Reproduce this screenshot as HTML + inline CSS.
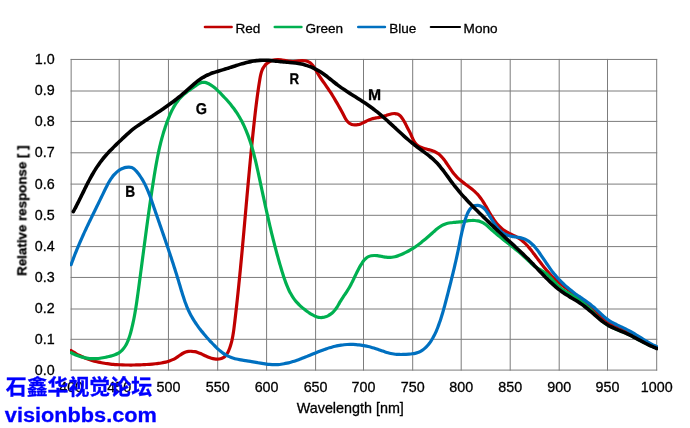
<!DOCTYPE html>
<html><head><meta charset="utf-8"><title>Relative response</title>
<style>
html,body{margin:0;padding:0;background:#fff;}
body{width:690px;height:428px;overflow:hidden;font-family:"Liberation Sans",sans-serif;}
svg{display:block;}
svg text{font-family:"Liberation Sans",sans-serif;fill:#000;stroke:#000;stroke-width:0.3px;}
svg{will-change:transform;}
svg g.t{filter:url(#ga);}
</style></head>
<body>
<svg width="690" height="428" viewBox="0 0 690 428">
<defs><filter id="ga" x="-10%" y="-10%" width="120%" height="120%"><feOffset dx="0" dy="0"/></filter></defs>
<rect width="690" height="428" fill="#ffffff"/>
<g stroke="#7c7c7c" stroke-width="1" fill="none">
<line x1="71.15" y1="58.95" x2="71.15" y2="370.60"/>
<line x1="119.20" y1="58.95" x2="119.20" y2="370.60"/>
<line x1="168.45" y1="58.95" x2="168.45" y2="370.60"/>
<line x1="217.70" y1="58.95" x2="217.70" y2="370.60"/>
<line x1="266.60" y1="58.95" x2="266.60" y2="370.60"/>
<line x1="315.60" y1="58.95" x2="315.60" y2="370.60"/>
<line x1="363.50" y1="58.95" x2="363.50" y2="370.60"/>
<line x1="412.70" y1="58.95" x2="412.70" y2="370.60"/>
<line x1="461.20" y1="58.95" x2="461.20" y2="370.60"/>
<line x1="510.20" y1="58.95" x2="510.20" y2="370.60"/>
<line x1="559.20" y1="58.95" x2="559.20" y2="370.60"/>
<line x1="607.50" y1="58.95" x2="607.50" y2="370.60"/>
<line x1="656.70" y1="58.95" x2="656.70" y2="370.60"/>
<line x1="70.65" y1="59.45" x2="657.20" y2="59.45"/>
<line x1="70.65" y1="91.00" x2="657.20" y2="91.00"/>
<line x1="70.65" y1="121.40" x2="657.20" y2="121.40"/>
<line x1="70.65" y1="152.80" x2="657.20" y2="152.80"/>
<line x1="70.65" y1="184.10" x2="657.20" y2="184.10"/>
<line x1="70.65" y1="215.30" x2="657.20" y2="215.30"/>
<line x1="70.65" y1="246.60" x2="657.20" y2="246.60"/>
<line x1="70.65" y1="277.45" x2="657.20" y2="277.45"/>
<line x1="70.65" y1="309.00" x2="657.20" y2="309.00"/>
<line x1="70.65" y1="339.30" x2="657.20" y2="339.30"/>
<line x1="70.65" y1="370.10" x2="657.20" y2="370.10"/>
</g>
<g class="t" font-size="14.3">
<text x="54.6" y="63.87" text-anchor="end">1.0</text>
<text x="54.6" y="95.42" text-anchor="end">0.9</text>
<text x="54.6" y="125.82" text-anchor="end">0.8</text>
<text x="54.6" y="157.22" text-anchor="end">0.7</text>
<text x="54.6" y="188.52" text-anchor="end">0.6</text>
<text x="54.6" y="219.72" text-anchor="end">0.5</text>
<text x="54.6" y="251.02" text-anchor="end">0.4</text>
<text x="54.6" y="281.87" text-anchor="end">0.3</text>
<text x="54.6" y="313.42" text-anchor="end">0.2</text>
<text x="54.6" y="343.72" text-anchor="end">0.1</text>
<text x="54.6" y="374.52" text-anchor="end">0.0</text>
</g>
<g class="t" font-size="14.3">
<text x="71.15" y="392.20" text-anchor="middle">400</text>
<text x="119.20" y="392.20" text-anchor="middle">450</text>
<text x="168.45" y="392.20" text-anchor="middle">500</text>
<text x="217.70" y="392.20" text-anchor="middle">550</text>
<text x="266.60" y="392.20" text-anchor="middle">600</text>
<text x="315.60" y="392.20" text-anchor="middle">650</text>
<text x="363.50" y="392.20" text-anchor="middle">700</text>
<text x="412.70" y="392.20" text-anchor="middle">750</text>
<text x="461.20" y="392.20" text-anchor="middle">800</text>
<text x="510.20" y="392.20" text-anchor="middle">850</text>
<text x="559.20" y="392.20" text-anchor="middle">900</text>
<text x="607.50" y="392.20" text-anchor="middle">950</text>
<text x="656.70" y="392.20" text-anchor="middle">1000</text>
</g>
<g class="t"><text x="350.3" y="413.2" font-size="14.35" text-anchor="middle">Wavelength [nm]</text>
<text transform="translate(26.4,210.6) rotate(-90)" font-size="13.33" font-weight="bold" text-anchor="middle">Relative response [ ]</text></g>
<clipPath id="pc"><rect x="70.6" y="58.9" width="586.7" height="311.8"/></clipPath>
<g fill="none" stroke-linecap="round" stroke-linejoin="round" clip-path="url(#pc)">
<path d="M71.11,350.53C71.54,350.81 72.80,351.68 73.65,352.22C74.51,352.76 75.37,353.28 76.24,353.78C77.11,354.28 78.00,354.76 78.89,355.22C79.77,355.68 80.67,356.11 81.58,356.53C82.48,356.95 83.40,357.35 84.31,357.73C85.23,358.10 86.16,358.46 87.09,358.81C88.03,359.15 88.97,359.47 89.91,359.78C90.85,360.09 91.81,360.38 92.76,360.66C93.72,360.93 94.68,361.19 95.64,361.43C96.61,361.68 97.58,361.90 98.56,362.12C99.53,362.33 100.51,362.53 101.49,362.71C102.47,362.90 103.46,363.07 104.45,363.23C105.44,363.39 106.43,363.53 107.42,363.67C108.42,363.80 109.41,363.92 110.41,364.04C111.41,364.15 112.41,364.25 113.41,364.34C114.41,364.43 115.41,364.51 116.42,364.58C117.42,364.65 118.43,364.71 119.43,364.76C120.43,364.81 121.44,364.86 122.44,364.89C123.44,364.93 124.45,364.96 125.45,364.98C126.45,365.00 127.45,365.02 128.45,365.02C129.46,365.03 130.45,365.03 131.45,365.03C132.45,365.02 133.45,365.01 134.45,365.00C135.45,364.98 136.44,364.96 137.44,364.93C138.44,364.90 139.43,364.86 140.43,364.82C141.43,364.78 142.42,364.73 143.42,364.68C144.42,364.62 145.41,364.56 146.41,364.50C147.41,364.43 148.41,364.36 149.40,364.29C150.40,364.21 151.40,364.13 152.40,364.04C153.40,363.95 154.40,363.86 155.40,363.76C156.40,363.65 157.40,363.54 158.39,363.41C159.38,363.28 160.37,363.13 161.35,362.96C162.34,362.79 163.32,362.61 164.28,362.39C165.25,362.18 166.21,361.94 167.16,361.67C168.11,361.39 169.05,361.10 169.98,360.76C170.90,360.42 171.82,360.05 172.72,359.63C173.61,359.22 174.50,358.76 175.36,358.26C176.23,357.76 177.07,357.20 177.92,356.63C178.76,356.07 179.58,355.45 180.43,354.89C181.27,354.34 182.11,353.76 183.00,353.28C183.88,352.81 184.77,352.36 185.72,352.05C186.66,351.73 187.65,351.51 188.65,351.39C189.65,351.26 190.70,351.24 191.71,351.28C192.73,351.33 193.77,351.47 194.77,351.67C195.76,351.86 196.73,352.14 197.68,352.46C198.63,352.77 199.53,353.15 200.44,353.54C201.35,353.93 202.23,354.37 203.13,354.79C204.02,355.21 204.91,355.66 205.81,356.06C206.72,356.47 207.63,356.87 208.57,357.23C209.50,357.58 210.45,357.91 211.42,358.18C212.38,358.44 213.37,358.67 214.38,358.82C215.38,358.96 216.43,359.05 217.45,359.04C218.48,359.02 219.54,358.94 220.51,358.72C221.48,358.49 222.44,358.17 223.27,357.71C224.10,357.25 224.83,356.63 225.49,355.93C226.14,355.24 226.70,354.40 227.21,353.55C227.73,352.70 228.17,351.75 228.59,350.81C229.01,349.88 229.37,348.91 229.73,347.96C230.08,347.00 230.40,346.04 230.69,345.07C230.99,344.11 231.26,343.14 231.51,342.17C231.76,341.20 231.99,340.22 232.20,339.24C232.41,338.26 232.60,337.28 232.78,336.30C232.96,335.32 233.12,334.33 233.27,333.34C233.43,332.36 233.57,331.37 233.70,330.38C233.84,329.39 233.96,328.40 234.09,327.41C234.21,326.42 234.33,325.42 234.45,324.43C234.57,323.44 234.69,322.45 234.81,321.45C234.92,320.46 235.04,319.47 235.16,318.48C235.27,317.48 235.39,316.49 235.50,315.50C235.62,314.51 235.73,313.51 235.84,312.52C235.96,311.53 236.07,310.53 236.18,309.54C236.29,308.55 236.40,307.55 236.52,306.56C236.63,305.56 236.74,304.57 236.84,303.58C236.95,302.58 237.06,301.59 237.17,300.59C237.28,299.60 237.38,298.61 237.49,297.61C237.60,296.62 237.70,295.62 237.81,294.63C237.91,293.63 238.02,292.64 238.12,291.64C238.23,290.65 238.33,289.65 238.43,288.66C238.53,287.66 238.64,286.67 238.74,285.67C238.84,284.68 238.94,283.68 239.04,282.69C239.14,281.69 239.24,280.70 239.34,279.70C239.44,278.71 239.54,277.71 239.64,276.71C239.74,275.72 239.84,274.72 239.93,273.73C240.03,272.73 240.13,271.73 240.23,270.74C240.32,269.74 240.42,268.75 240.52,267.75C240.61,266.75 240.71,265.76 240.80,264.76C240.90,263.77 240.99,262.77 241.09,261.77C241.18,260.78 241.28,259.78 241.37,258.78C241.46,257.79 241.56,256.79 241.65,255.79C241.74,254.80 241.84,253.80 241.93,252.80C242.02,251.81 242.11,250.81 242.21,249.81C242.30,248.82 242.39,247.82 242.48,246.82C242.57,245.83 242.66,244.83 242.75,243.83C242.85,242.84 242.94,241.84 243.03,240.84C243.12,239.84 243.21,238.85 243.30,237.85C243.39,236.85 243.48,235.86 243.57,234.86C243.66,233.86 243.75,232.86 243.84,231.87C243.93,230.87 244.02,229.87 244.10,228.88C244.19,227.88 244.28,226.88 244.37,225.88C244.46,224.89 244.55,223.89 244.64,222.89C244.73,221.90 244.82,220.90 244.90,219.90C244.99,218.90 245.08,217.91 245.17,216.91C245.26,215.91 245.35,214.92 245.44,213.92C245.52,212.92 245.61,211.92 245.70,210.93C245.79,209.93 245.88,208.93 245.97,207.94C246.06,206.94 246.14,205.94 246.23,204.94C246.32,203.95 246.41,202.95 246.50,201.95C246.59,200.96 246.68,199.96 246.77,198.96C246.86,197.96 246.94,196.97 247.03,195.97C247.12,194.97 247.21,193.98 247.30,192.98C247.39,191.98 247.48,190.99 247.57,189.99C247.66,188.99 247.75,188.00 247.84,187.00C247.93,186.00 248.02,185.01 248.11,184.01C248.20,183.01 248.29,182.02 248.38,181.02C248.47,180.02 248.56,179.03 248.66,178.03C248.75,177.03 248.84,176.04 248.93,175.04C249.02,174.05 249.12,173.05 249.21,172.05C249.30,171.06 249.39,170.06 249.49,169.06C249.58,168.07 249.67,167.07 249.77,166.08C249.86,165.08 249.95,164.09 250.05,163.09C250.14,162.09 250.24,161.10 250.33,160.10C250.43,159.11 250.52,158.11 250.62,157.12C250.72,156.12 250.81,155.13 250.91,154.13C251.01,153.14 251.10,152.14 251.20,151.15C251.30,150.15 251.40,149.16 251.49,148.16C251.59,147.17 251.69,146.17 251.79,145.18C251.89,144.18 251.99,143.19 252.09,142.19C252.19,141.20 252.29,140.21 252.40,139.21C252.50,138.22 252.60,137.22 252.70,136.23C252.80,135.24 252.91,134.24 253.01,133.25C253.12,132.25 253.22,131.26 253.33,130.27C253.43,129.27 253.54,128.28 253.64,127.29C253.75,126.29 253.86,125.30 253.96,124.31C254.07,123.32 254.18,122.32 254.29,121.33C254.40,120.34 254.51,119.35 254.62,118.35C254.73,117.36 254.84,116.37 254.95,115.38C255.06,114.38 255.18,113.39 255.29,112.40C255.41,111.40 255.52,110.41 255.64,109.42C255.76,108.43 255.88,107.43 256.00,106.44C256.12,105.45 256.24,104.45 256.37,103.46C256.49,102.47 256.62,101.47 256.75,100.48C256.88,99.48 257.01,98.49 257.14,97.49C257.27,96.50 257.41,95.50 257.55,94.51C257.68,93.51 257.82,92.51 257.97,91.52C258.11,90.52 258.25,89.52 258.40,88.53C258.55,87.53 258.70,86.53 258.85,85.53C259.01,84.53 259.16,83.53 259.32,82.53C259.48,81.53 259.64,80.52 259.81,79.52C259.98,78.52 260.15,77.52 260.34,76.53C260.54,75.54 260.74,74.55 261.00,73.59C261.26,72.63 261.53,71.68 261.88,70.76C262.22,69.85 262.61,68.95 263.08,68.11C263.55,67.26 264.07,66.44 264.69,65.68C265.31,64.92 266.02,64.19 266.78,63.54C267.54,62.89 268.39,62.29 269.27,61.79C270.14,61.30 271.08,60.87 272.03,60.55C272.98,60.23 273.97,60.01 274.96,59.87C275.95,59.72 276.97,59.68 277.98,59.68C278.99,59.68 280.02,59.77 281.03,59.88C282.04,59.99 283.04,60.18 284.03,60.36C285.02,60.53 286.00,60.76 286.99,60.93C287.97,61.10 288.95,61.29 289.93,61.38C290.91,61.48 291.89,61.52 292.88,61.49C293.87,61.47 294.87,61.34 295.87,61.23C296.87,61.12 297.87,60.95 298.88,60.84C299.88,60.74 300.90,60.62 301.90,60.61C302.90,60.60 303.93,60.63 304.89,60.77C305.86,60.91 306.83,61.12 307.71,61.46C308.59,61.80 309.42,62.25 310.17,62.80C310.93,63.35 311.60,64.03 312.24,64.75C312.88,65.48 313.45,66.31 314.02,67.15C314.58,67.99 315.10,68.91 315.63,69.81C316.16,70.70 316.66,71.64 317.20,72.53C317.73,73.43 318.27,74.31 318.81,75.18C319.36,76.05 319.92,76.90 320.48,77.74C321.05,78.59 321.62,79.42 322.19,80.24C322.76,81.07 323.34,81.88 323.91,82.69C324.48,83.51 325.06,84.32 325.62,85.13C326.19,85.94 326.76,86.75 327.31,87.56C327.87,88.38 328.42,89.19 328.97,90.02C329.51,90.84 330.05,91.66 330.59,92.49C331.12,93.32 331.65,94.15 332.18,94.98C332.70,95.82 333.22,96.66 333.74,97.51C334.25,98.35 334.76,99.20 335.27,100.06C335.78,100.91 336.28,101.77 336.78,102.64C337.28,103.50 337.78,104.37 338.28,105.25C338.77,106.13 339.26,107.01 339.75,107.90C340.24,108.79 340.73,109.68 341.22,110.59C341.70,111.49 342.19,112.40 342.67,113.31C343.15,114.23 343.63,115.17 344.12,116.08C344.61,117.00 345.08,117.94 345.62,118.81C346.15,119.67 346.68,120.53 347.30,121.26C347.92,121.99 348.57,122.68 349.32,123.21C350.08,123.73 350.92,124.14 351.81,124.42C352.70,124.70 353.69,124.84 354.67,124.89C355.66,124.93 356.70,124.84 357.70,124.68C358.70,124.51 359.70,124.23 360.67,123.89C361.63,123.56 362.55,123.12 363.47,122.68C364.38,122.25 365.27,121.74 366.16,121.28C367.05,120.83 367.93,120.35 368.83,119.96C369.73,119.57 370.63,119.22 371.56,118.94C372.48,118.66 373.42,118.46 374.36,118.25C375.31,118.05 376.28,117.90 377.25,117.72C378.22,117.54 379.20,117.39 380.18,117.17C381.17,116.96 382.17,116.71 383.17,116.43C384.17,116.14 385.18,115.78 386.17,115.46C387.17,115.14 388.17,114.77 389.15,114.49C390.13,114.21 391.11,113.92 392.06,113.76C393.01,113.60 393.94,113.48 394.84,113.53C395.74,113.57 396.62,113.69 397.46,114.02C398.29,114.34 399.10,114.83 399.85,115.49C400.61,116.14 401.32,117.06 401.98,117.94C402.64,118.83 403.25,119.87 403.80,120.81C404.36,121.74 404.84,122.66 405.32,123.55C405.79,124.44 406.21,125.29 406.65,126.14C407.09,126.99 407.52,127.81 407.96,128.66C408.40,129.50 408.86,130.32 409.30,131.19C409.74,132.06 410.19,132.94 410.63,133.87C411.06,134.80 411.47,135.79 411.90,136.77C412.33,137.75 412.74,138.80 413.21,139.74C413.69,140.69 414.18,141.64 414.76,142.45C415.33,143.26 415.98,143.98 416.68,144.61C417.39,145.25 418.16,145.78 418.97,146.26C419.78,146.74 420.65,147.14 421.54,147.51C422.43,147.87 423.37,148.17 424.31,148.46C425.26,148.76 426.24,149.00 427.21,149.26C428.18,149.52 429.17,149.75 430.13,150.02C431.09,150.29 432.05,150.56 432.97,150.90C433.89,151.24 434.78,151.61 435.63,152.06C436.47,152.50 437.27,153.01 438.04,153.57C438.81,154.12 439.53,154.74 440.23,155.39C440.93,156.04 441.60,156.75 442.25,157.48C442.90,158.21 443.52,158.99 444.13,159.78C444.74,160.57 445.33,161.39 445.91,162.23C446.50,163.06 447.07,163.92 447.64,164.77C448.21,165.63 448.78,166.50 449.36,167.36C449.93,168.22 450.51,169.08 451.10,169.93C451.69,170.77 452.29,171.62 452.91,172.43C453.53,173.25 454.16,174.05 454.83,174.81C455.49,175.57 456.18,176.31 456.89,177.02C457.59,177.73 458.33,178.41 459.07,179.07C459.81,179.74 460.58,180.38 461.35,181.01C462.12,181.64 462.91,182.25 463.70,182.86C464.49,183.47 465.29,184.06 466.08,184.66C466.87,185.26 467.68,185.85 468.47,186.45C469.26,187.05 470.05,187.65 470.83,188.27C471.60,188.88 472.38,189.50 473.13,190.14C473.88,190.78 474.63,191.43 475.35,192.10C476.06,192.78 476.77,193.48 477.44,194.20C478.12,194.93 478.77,195.68 479.40,196.46C480.03,197.24 480.63,198.04 481.21,198.87C481.80,199.69 482.36,200.53 482.92,201.39C483.47,202.24 484.00,203.12 484.53,203.99C485.06,204.87 485.58,205.76 486.09,206.64C486.60,207.53 487.10,208.42 487.61,209.30C488.12,210.18 488.62,211.06 489.12,211.94C489.63,212.81 490.14,213.68 490.66,214.54C491.17,215.40 491.70,216.25 492.23,217.08C492.77,217.92 493.31,218.75 493.88,219.56C494.45,220.37 495.02,221.17 495.63,221.95C496.23,222.73 496.85,223.49 497.50,224.24C498.15,224.98 498.82,225.70 499.52,226.40C500.22,227.10 500.94,227.78 501.69,228.42C502.44,229.07 503.22,229.69 504.02,230.27C504.83,230.85 505.66,231.41 506.52,231.92C507.38,232.44 508.27,232.90 509.18,233.36C510.08,233.81 511.01,234.22 511.93,234.65C512.85,235.08 513.78,235.48 514.69,235.93C515.59,236.37 516.49,236.82 517.35,237.31C518.21,237.81 519.05,238.34 519.86,238.90C520.66,239.46 521.44,240.06 522.20,240.68C522.95,241.31 523.69,241.96 524.40,242.64C525.12,243.32 525.81,244.02 526.49,244.74C527.17,245.46 527.83,246.20 528.48,246.96C529.13,247.71 529.76,248.49 530.39,249.27C531.02,250.05 531.64,250.85 532.25,251.65C532.87,252.45 533.47,253.26 534.08,254.07C534.69,254.88 535.29,255.70 535.90,256.51C536.50,257.32 537.11,258.13 537.72,258.94C538.32,259.75 538.93,260.56 539.54,261.37C540.16,262.17 540.77,262.97 541.39,263.77C542.01,264.57 542.63,265.36 543.26,266.15C543.89,266.94 544.52,267.72 545.16,268.49C545.80,269.27 546.44,270.04 547.10,270.79C547.75,271.55 548.41,272.31 549.08,273.05C549.75,273.79 550.42,274.52 551.11,275.24C551.80,275.96 552.49,276.67 553.20,277.37C553.91,278.07 554.63,278.75 555.36,279.43C556.09,280.10 556.83,280.76 557.58,281.41C558.33,282.06 559.09,282.70 559.86,283.33C560.63,283.96 561.41,284.57 562.19,285.19C562.97,285.80 563.76,286.41 564.56,287.01C565.35,287.61 566.15,288.20 566.96,288.80C567.76,289.39 568.57,289.98 569.37,290.57C570.18,291.16 570.99,291.74 571.80,292.33C572.61,292.92 573.42,293.50 574.23,294.09C575.04,294.68 575.85,295.28 576.65,295.87C577.46,296.47 578.26,297.07 579.05,297.68C579.85,298.29 580.64,298.90 581.43,299.52C582.21,300.14 582.99,300.77 583.77,301.41C584.54,302.04 585.31,302.69 586.07,303.34C586.83,303.99 587.59,304.64 588.35,305.30C589.10,305.96 589.86,306.62 590.61,307.28C591.36,307.94 592.11,308.61 592.86,309.27C593.62,309.93 594.37,310.59 595.12,311.25C595.87,311.91 596.62,312.57 597.38,313.22C598.14,313.87 598.90,314.52 599.66,315.16C600.43,315.79 601.20,316.43 601.97,317.05C602.75,317.68 603.53,318.29 604.31,318.90C605.10,319.50 605.90,320.09 606.70,320.68C607.51,321.26 608.32,321.83 609.14,322.38C609.96,322.93 610.80,323.47 611.64,323.99C612.49,324.51 613.34,325.02 614.21,325.51C615.08,325.99 615.97,326.46 616.86,326.91C617.75,327.36 618.66,327.80 619.57,328.23C620.48,328.65 621.40,329.07 622.32,329.48C623.24,329.90 624.17,330.30 625.09,330.71C626.02,331.12 626.94,331.53 627.86,331.95C628.78,332.36 629.70,332.78 630.61,333.22C631.51,333.65 632.42,334.10 633.31,334.56C634.19,335.02 635.07,335.50 635.94,336.00C636.80,336.50 637.65,337.02 638.50,337.55C639.35,338.08 640.18,338.62 641.02,339.16C641.86,339.70 642.69,340.25 643.52,340.78C644.36,341.32 645.20,341.86 646.05,342.38C646.90,342.90 647.75,343.42 648.62,343.91C649.49,344.39 650.36,344.87 651.26,345.31C652.16,345.76 653.08,346.18 654.02,346.56C654.96,346.94 656.42,347.42 656.90,347.60" stroke="#c00000" stroke-width="3.20"/>
<path d="M71.13,352.65C71.57,352.88 72.87,353.61 73.77,354.05C74.67,354.48 75.58,354.89 76.51,355.27C77.44,355.64 78.39,355.99 79.35,356.30C80.30,356.62 81.27,356.90 82.25,357.16C83.22,357.41 84.21,357.63 85.19,357.82C86.18,358.01 87.18,358.17 88.17,358.29C89.16,358.42 90.16,358.51 91.15,358.57C92.14,358.63 93.13,358.66 94.12,358.65C95.11,358.65 96.08,358.60 97.06,358.54C98.04,358.47 99.01,358.36 99.99,358.24C100.96,358.12 101.94,357.96 102.92,357.79C103.91,357.62 104.90,357.43 105.90,357.22C106.90,357.01 107.92,356.80 108.93,356.55C109.94,356.31 110.97,356.05 111.96,355.75C112.96,355.45 113.96,355.13 114.91,354.76C115.85,354.39 116.78,353.98 117.65,353.51C118.51,353.04 119.33,352.52 120.09,351.94C120.86,351.37 121.56,350.73 122.22,350.06C122.89,349.39 123.50,348.66 124.07,347.90C124.64,347.14 125.17,346.33 125.67,345.50C126.16,344.67 126.62,343.80 127.04,342.91C127.47,342.02 127.86,341.09 128.23,340.16C128.60,339.22 128.94,338.26 129.27,337.29C129.59,336.32 129.89,335.33 130.18,334.34C130.47,333.36 130.74,332.36 131.00,331.36C131.27,330.37 131.52,329.37 131.76,328.38C132.01,327.39 132.24,326.39 132.47,325.40C132.70,324.41 132.92,323.42 133.13,322.43C133.35,321.44 133.55,320.45 133.75,319.47C133.95,318.48 134.14,317.49 134.33,316.50C134.51,315.52 134.69,314.53 134.87,313.55C135.04,312.56 135.21,311.57 135.38,310.59C135.54,309.60 135.70,308.62 135.86,307.64C136.02,306.65 136.17,305.67 136.32,304.68C136.47,303.70 136.62,302.72 136.76,301.73C136.90,300.75 137.04,299.77 137.18,298.78C137.32,297.80 137.46,296.82 137.60,295.83C137.73,294.85 137.87,293.86 138.00,292.88C138.13,291.89 138.27,290.91 138.40,289.92C138.53,288.94 138.67,287.95 138.80,286.97C138.93,285.98 139.07,285.00 139.20,284.01C139.33,283.02 139.46,282.04 139.59,281.05C139.72,280.06 139.86,279.08 139.99,278.09C140.12,277.10 140.25,276.11 140.38,275.13C140.51,274.14 140.64,273.15 140.77,272.16C140.90,271.17 141.03,270.18 141.16,269.19C141.29,268.21 141.42,267.22 141.55,266.23C141.68,265.24 141.81,264.25 141.94,263.26C142.07,262.27 142.20,261.28 142.33,260.29C142.46,259.30 142.59,258.31 142.72,257.32C142.85,256.33 142.98,255.33 143.11,254.34C143.24,253.35 143.37,252.36 143.50,251.37C143.64,250.38 143.77,249.39 143.90,248.40C144.03,247.40 144.16,246.41 144.29,245.42C144.42,244.43 144.55,243.44 144.68,242.45C144.81,241.45 144.94,240.46 145.08,239.47C145.21,238.48 145.34,237.48 145.47,236.49C145.60,235.50 145.74,234.51 145.87,233.52C146.00,232.52 146.14,231.53 146.27,230.54C146.40,229.55 146.54,228.55 146.67,227.56C146.81,226.57 146.94,225.57 147.08,224.58C147.21,223.59 147.35,222.60 147.48,221.60C147.62,220.61 147.76,219.62 147.89,218.63C148.03,217.63 148.17,216.64 148.31,215.65C148.44,214.65 148.58,213.66 148.72,212.67C148.86,211.68 149.00,210.68 149.14,209.69C149.28,208.70 149.42,207.71 149.56,206.71C149.71,205.72 149.85,204.73 149.99,203.74C150.13,202.75 150.28,201.75 150.42,200.76C150.57,199.77 150.71,198.78 150.86,197.79C151.00,196.79 151.15,195.80 151.30,194.81C151.44,193.82 151.59,192.83 151.74,191.84C151.89,190.85 152.04,189.85 152.19,188.86C152.34,187.87 152.49,186.88 152.64,185.89C152.79,184.90 152.95,183.91 153.10,182.92C153.25,181.93 153.41,180.94 153.57,179.95C153.72,178.96 153.88,177.97 154.04,176.98C154.19,175.99 154.35,175.00 154.52,174.01C154.68,173.02 154.84,172.04 155.01,171.05C155.17,170.06 155.34,169.07 155.51,168.09C155.68,167.10 155.85,166.12 156.03,165.13C156.20,164.14 156.38,163.16 156.56,162.18C156.74,161.19 156.93,160.21 157.12,159.23C157.31,158.25 157.50,157.27 157.69,156.29C157.89,155.31 158.09,154.33 158.30,153.35C158.50,152.37 158.71,151.40 158.92,150.42C159.14,149.45 159.36,148.47 159.58,147.50C159.81,146.53 160.03,145.55 160.27,144.58C160.50,143.61 160.74,142.65 160.99,141.68C161.24,140.71 161.49,139.75 161.75,138.78C162.01,137.82 162.27,136.86 162.55,135.90C162.82,134.94 163.10,133.98 163.38,133.02C163.67,132.07 163.96,131.11 164.26,130.16C164.56,129.21 164.87,128.26 165.18,127.31C165.50,126.36 165.82,125.41 166.16,124.47C166.49,123.52 166.83,122.58 167.18,121.64C167.53,120.70 167.88,119.76 168.25,118.83C168.62,117.89 168.99,116.96 169.38,116.04C169.77,115.11 170.17,114.19 170.59,113.28C171.00,112.36 171.43,111.46 171.87,110.56C172.32,109.67 172.78,108.79 173.25,107.91C173.73,107.04 174.23,106.18 174.74,105.34C175.26,104.49 175.80,103.66 176.35,102.85C176.91,102.03 177.49,101.24 178.10,100.46C178.70,99.68 179.33,98.92 179.99,98.19C180.64,97.45 181.32,96.73 182.03,96.04C182.74,95.35 183.48,94.68 184.25,94.04C185.01,93.39 185.81,92.77 186.62,92.16C187.43,91.54 188.26,90.95 189.10,90.34C189.94,89.74 190.80,89.15 191.66,88.55C192.52,87.94 193.39,87.32 194.25,86.71C195.12,86.10 195.98,85.45 196.85,84.89C197.72,84.33 198.59,83.77 199.47,83.36C200.35,82.95 201.23,82.59 202.13,82.42C203.02,82.25 203.93,82.23 204.84,82.36C205.74,82.48 206.67,82.82 207.56,83.18C208.45,83.55 209.35,84.06 210.20,84.57C211.05,85.08 211.87,85.64 212.67,86.23C213.47,86.82 214.24,87.45 215.00,88.09C215.76,88.73 216.50,89.41 217.23,90.09C217.97,90.78 218.68,91.48 219.40,92.19C220.12,92.90 220.83,93.62 221.53,94.34C222.24,95.06 222.94,95.79 223.64,96.52C224.34,97.26 225.03,98.00 225.71,98.74C226.39,99.49 227.07,100.24 227.73,101.01C228.40,101.77 229.06,102.53 229.71,103.31C230.35,104.08 230.99,104.86 231.61,105.65C232.24,106.44 232.85,107.23 233.45,108.04C234.05,108.84 234.64,109.65 235.21,110.47C235.79,111.28 236.34,112.11 236.89,112.94C237.43,113.77 237.96,114.61 238.48,115.46C238.99,116.31 239.49,117.16 239.98,118.02C240.47,118.88 240.95,119.74 241.42,120.62C241.88,121.49 242.33,122.37 242.77,123.25C243.21,124.14 243.64,125.03 244.06,125.92C244.48,126.82 244.89,127.72 245.28,128.63C245.68,129.53 246.06,130.44 246.44,131.36C246.82,132.28 247.18,133.20 247.54,134.12C247.89,135.05 248.24,135.98 248.58,136.91C248.92,137.85 249.25,138.79 249.57,139.73C249.89,140.67 250.20,141.62 250.51,142.57C250.82,143.52 251.12,144.47 251.41,145.43C251.70,146.38 251.98,147.34 252.26,148.31C252.54,149.27 252.81,150.23 253.08,151.20C253.34,152.17 253.60,153.14 253.86,154.11C254.11,155.08 254.36,156.06 254.61,157.03C254.86,158.01 255.10,158.99 255.33,159.97C255.57,160.95 255.80,161.93 256.03,162.91C256.26,163.89 256.49,164.87 256.71,165.86C256.94,166.84 257.16,167.83 257.37,168.81C257.59,169.80 257.81,170.78 258.02,171.77C258.24,172.75 258.45,173.74 258.66,174.73C258.87,175.71 259.08,176.70 259.30,177.68C259.51,178.67 259.72,179.65 259.93,180.64C260.14,181.62 260.35,182.60 260.56,183.58C260.77,184.57 260.97,185.55 261.18,186.53C261.39,187.51 261.60,188.49 261.81,189.47C262.02,190.45 262.23,191.43 262.44,192.41C262.65,193.39 262.86,194.37 263.07,195.35C263.29,196.32 263.50,197.30 263.71,198.28C263.92,199.25 264.13,200.23 264.34,201.21C264.56,202.18 264.77,203.16 264.98,204.13C265.19,205.11 265.41,206.08 265.62,207.06C265.84,208.03 266.05,209.00 266.27,209.98C266.49,210.95 266.70,211.92 266.92,212.89C267.14,213.87 267.36,214.84 267.58,215.81C267.80,216.78 268.02,217.75 268.24,218.72C268.46,219.69 268.69,220.66 268.91,221.63C269.13,222.60 269.36,223.57 269.59,224.54C269.81,225.51 270.04,226.48 270.27,227.45C270.50,228.42 270.73,229.39 270.96,230.36C271.20,231.32 271.43,232.29 271.67,233.26C271.90,234.23 272.14,235.19 272.38,236.16C272.62,237.13 272.86,238.09 273.10,239.06C273.34,240.03 273.59,240.99 273.83,241.96C274.08,242.93 274.33,243.89 274.58,244.86C274.83,245.83 275.08,246.79 275.33,247.76C275.59,248.72 275.84,249.69 276.10,250.65C276.36,251.62 276.62,252.58 276.88,253.55C277.15,254.51 277.41,255.48 277.68,256.44C277.95,257.41 278.22,258.37 278.49,259.34C278.76,260.30 279.04,261.27 279.32,262.23C279.59,263.20 279.87,264.16 280.16,265.13C280.44,266.09 280.72,267.05 281.01,268.02C281.30,268.98 281.59,269.95 281.89,270.91C282.18,271.88 282.48,272.84 282.78,273.81C283.08,274.77 283.38,275.73 283.70,276.69C284.01,277.65 284.33,278.61 284.66,279.56C284.98,280.51 285.32,281.46 285.67,282.41C286.02,283.35 286.37,284.28 286.75,285.21C287.12,286.14 287.51,287.06 287.91,287.97C288.31,288.88 288.73,289.78 289.17,290.67C289.61,291.56 290.06,292.44 290.54,293.30C291.01,294.16 291.51,295.02 292.03,295.85C292.55,296.69 293.09,297.51 293.65,298.31C294.22,299.12 294.81,299.91 295.43,300.68C296.05,301.45 296.70,302.20 297.37,302.93C298.05,303.66 298.75,304.38 299.47,305.08C300.19,305.78 300.94,306.46 301.70,307.13C302.47,307.79 303.26,308.44 304.06,309.08C304.86,309.72 305.68,310.34 306.51,310.95C307.35,311.56 308.19,312.17 309.05,312.75C309.91,313.32 310.78,313.90 311.66,314.42C312.55,314.94 313.44,315.44 314.34,315.85C315.25,316.27 316.16,316.65 317.08,316.92C318.01,317.19 318.94,317.41 319.88,317.50C320.82,317.59 321.78,317.58 322.73,317.46C323.68,317.34 324.65,317.10 325.59,316.78C326.53,316.47 327.47,316.04 328.37,315.56C329.27,315.08 330.15,314.50 330.98,313.89C331.81,313.27 332.61,312.58 333.34,311.86C334.06,311.14 334.73,310.36 335.35,309.57C335.97,308.78 336.51,307.95 337.04,307.11C337.58,306.27 338.06,305.40 338.55,304.54C339.05,303.68 339.52,302.80 340.03,301.94C340.54,301.08 341.06,300.22 341.60,299.38C342.14,298.53 342.70,297.69 343.26,296.84C343.82,296.00 344.39,295.17 344.96,294.33C345.52,293.49 346.09,292.65 346.64,291.81C347.19,290.97 347.74,290.12 348.26,289.27C348.78,288.41 349.28,287.55 349.76,286.69C350.25,285.82 350.71,284.94 351.17,284.07C351.63,283.19 352.07,282.30 352.51,281.42C352.94,280.53 353.37,279.64 353.80,278.75C354.23,277.85 354.65,276.96 355.08,276.06C355.50,275.17 355.93,274.27 356.37,273.38C356.80,272.48 357.24,271.59 357.70,270.70C358.15,269.81 358.62,268.92 359.10,268.03C359.58,267.15 360.08,266.26 360.60,265.39C361.11,264.51 361.65,263.63 362.22,262.78C362.79,261.93 363.37,261.06 364.01,260.29C364.66,259.52 365.33,258.76 366.08,258.15C366.82,257.53 367.63,256.99 368.50,256.59C369.36,256.19 370.32,255.92 371.28,255.73C372.24,255.55 373.26,255.49 374.25,255.48C375.25,255.46 376.25,255.56 377.24,255.67C378.23,255.78 379.21,255.96 380.19,256.13C381.17,256.31 382.15,256.52 383.12,256.70C384.10,256.87 385.07,257.06 386.05,257.18C387.03,257.30 388.00,257.39 388.99,257.40C389.97,257.40 390.95,257.34 391.94,257.22C392.92,257.10 393.91,256.92 394.89,256.69C395.87,256.46 396.86,256.18 397.83,255.86C398.80,255.54 399.77,255.18 400.72,254.79C401.68,254.41 402.62,253.98 403.55,253.55C404.49,253.11 405.40,252.65 406.31,252.19C407.21,251.72 408.10,251.23 408.97,250.74C409.85,250.24 410.71,249.74 411.56,249.22C412.41,248.70 413.24,248.16 414.07,247.62C414.90,247.08 415.71,246.52 416.52,245.95C417.33,245.39 418.13,244.81 418.92,244.22C419.71,243.64 420.49,243.04 421.27,242.43C422.04,241.83 422.81,241.21 423.58,240.59C424.34,239.96 425.10,239.33 425.86,238.69C426.62,238.05 427.37,237.40 428.12,236.74C428.87,236.08 429.62,235.42 430.37,234.75C431.12,234.08 431.87,233.39 432.62,232.72C433.37,232.04 434.12,231.35 434.89,230.69C435.65,230.03 436.42,229.37 437.20,228.75C437.99,228.13 438.78,227.53 439.60,226.97C440.42,226.41 441.26,225.88 442.12,225.42C442.98,224.95 443.86,224.53 444.78,224.17C445.70,223.82 446.65,223.54 447.62,223.30C448.59,223.07 449.60,222.91 450.61,222.77C451.62,222.63 452.66,222.54 453.69,222.44C454.72,222.35 455.76,222.29 456.78,222.20C457.80,222.10 458.81,222.01 459.81,221.89C460.81,221.78 461.79,221.63 462.77,221.49C463.75,221.35 464.71,221.20 465.69,221.06C466.66,220.93 467.63,220.80 468.61,220.70C469.60,220.61 470.60,220.52 471.60,220.49C472.61,220.46 473.65,220.46 474.66,220.52C475.68,220.59 476.71,220.69 477.69,220.88C478.68,221.06 479.66,221.31 480.59,221.64C481.51,221.98 482.40,222.40 483.25,222.88C484.10,223.36 484.90,223.93 485.69,224.52C486.49,225.11 487.24,225.77 488.00,226.43C488.76,227.09 489.49,227.79 490.24,228.47C490.98,229.15 491.73,229.85 492.48,230.52C493.23,231.19 493.99,231.86 494.75,232.51C495.51,233.17 496.28,233.82 497.05,234.47C497.81,235.11 498.59,235.75 499.36,236.39C500.14,237.02 500.92,237.65 501.70,238.28C502.48,238.90 503.26,239.53 504.04,240.15C504.83,240.77 505.61,241.39 506.39,242.00C507.18,242.62 507.96,243.24 508.75,243.85C509.53,244.47 510.32,245.09 511.10,245.70C511.88,246.32 512.66,246.94 513.44,247.56C514.22,248.19 515.00,248.81 515.77,249.44C516.54,250.07 517.31,250.70 518.08,251.34C518.85,251.98 519.61,252.62 520.37,253.27C521.13,253.92 521.88,254.57 522.63,255.24C523.38,255.90 524.12,256.57 524.86,257.25C525.59,257.93 526.32,258.62 527.05,259.31C527.77,260.01 528.48,260.72 529.21,261.41C529.93,262.11 530.65,262.81 531.39,263.49C532.14,264.16 532.88,264.82 533.66,265.44C534.44,266.06 535.24,266.65 536.07,267.21C536.89,267.76 537.75,268.27 538.61,268.78C539.46,269.30 540.34,269.78 541.20,270.29C542.05,270.80 542.91,271.30 543.74,271.86C544.56,272.41 545.36,272.99 546.13,273.61C546.90,274.23 547.64,274.90 548.36,275.58C549.08,276.27 549.78,276.99 550.47,277.71C551.16,278.44 551.84,279.19 552.52,279.93C553.20,280.68 553.87,281.44 554.55,282.18C555.23,282.92 555.91,283.67 556.62,284.38C557.32,285.10 558.03,285.81 558.77,286.48C559.52,287.15 560.28,287.80 561.07,288.41C561.86,289.02 562.67,289.60 563.50,290.16C564.33,290.72 565.18,291.25 566.04,291.78C566.90,292.30 567.77,292.80 568.64,293.31C569.51,293.82 570.39,294.31 571.26,294.82C572.13,295.32 573.00,295.82 573.86,296.34C574.71,296.86 575.56,297.39 576.39,297.93C577.22,298.48 578.04,299.04 578.84,299.61C579.65,300.19 580.44,300.78 581.23,301.38C582.01,301.98 582.78,302.60 583.54,303.23C584.31,303.86 585.06,304.51 585.80,305.17C586.54,305.82 587.28,306.50 588.01,307.18C588.73,307.86 589.45,308.56 590.17,309.26C590.88,309.97 591.59,310.69 592.29,311.41C593.00,312.14 593.70,312.87 594.40,313.60C595.11,314.32 595.81,315.06 596.52,315.77C597.23,316.49 597.94,317.21 598.67,317.91C599.39,318.61 600.13,319.30 600.87,319.96C601.62,320.63 602.38,321.28 603.16,321.90C603.94,322.52 604.73,323.12 605.54,323.68C606.36,324.24 607.20,324.77 608.05,325.27C608.90,325.77 609.78,326.24 610.67,326.69C611.55,327.14 612.46,327.56 613.37,327.98C614.28,328.39 615.20,328.79 616.13,329.18C617.05,329.57 617.99,329.95 618.92,330.33C619.85,330.71 620.79,331.09 621.72,331.47C622.65,331.86 623.58,332.24 624.50,332.65C625.42,333.05 626.34,333.46 627.25,333.88C628.16,334.31 629.06,334.75 629.95,335.19C630.85,335.63 631.74,336.08 632.63,336.54C633.52,336.99 634.40,337.46 635.28,337.92C636.17,338.39 637.05,338.86 637.93,339.32C638.81,339.79 639.69,340.26 640.57,340.73C641.45,341.19 642.33,341.66 643.22,342.12C644.10,342.57 644.99,343.03 645.88,343.48C646.78,343.92 647.67,344.36 648.58,344.79C649.48,345.22 650.39,345.64 651.30,346.04C652.22,346.45 653.14,346.84 654.08,347.22C655.01,347.60 656.43,348.12 656.90,348.31" stroke="#00b050" stroke-width="3.20"/>
<path d="M71.11,264.67C71.28,264.18 71.81,262.70 72.16,261.73C72.52,260.76 72.88,259.79 73.24,258.83C73.60,257.87 73.97,256.91 74.34,255.96C74.70,255.01 75.08,254.06 75.45,253.12C75.82,252.18 76.20,251.24 76.58,250.31C76.96,249.38 77.35,248.45 77.73,247.52C78.12,246.60 78.51,245.68 78.90,244.76C79.29,243.84 79.69,242.93 80.08,242.01C80.48,241.10 80.88,240.19 81.28,239.29C81.68,238.38 82.09,237.48 82.49,236.58C82.90,235.67 83.31,234.78 83.72,233.88C84.13,232.98 84.54,232.08 84.96,231.19C85.37,230.30 85.79,229.40 86.21,228.51C86.63,227.62 87.05,226.73 87.47,225.84C87.89,224.95 88.32,224.06 88.74,223.17C89.17,222.28 89.60,221.39 90.03,220.50C90.46,219.61 90.89,218.72 91.32,217.83C91.75,216.94 92.19,216.04 92.62,215.15C93.06,214.26 93.49,213.37 93.93,212.47C94.37,211.58 94.81,210.68 95.24,209.78C95.68,208.88 96.13,207.98 96.57,207.08C97.01,206.18 97.45,205.27 97.89,204.37C98.34,203.46 98.78,202.55 99.23,201.63C99.67,200.72 100.12,199.81 100.56,198.89C101.01,197.97 101.46,197.04 101.90,196.12C102.35,195.19 102.80,194.26 103.25,193.32C103.70,192.39 104.14,191.45 104.59,190.51C105.05,189.57 105.50,188.63 105.96,187.70C106.43,186.77 106.90,185.84 107.38,184.93C107.86,184.01 108.35,183.11 108.86,182.23C109.37,181.34 109.89,180.47 110.44,179.63C110.98,178.79 111.54,177.97 112.13,177.18C112.72,176.39 113.33,175.62 113.96,174.90C114.60,174.18 115.26,173.48 115.96,172.83C116.65,172.18 117.38,171.57 118.14,171.01C118.90,170.44 119.69,169.92 120.53,169.46C121.36,168.99 122.24,168.57 123.15,168.22C124.06,167.87 125.04,167.55 126.00,167.36C126.96,167.17 127.96,167.03 128.91,167.06C129.86,167.09 130.81,167.23 131.69,167.55C132.56,167.87 133.39,168.39 134.16,168.99C134.93,169.58 135.64,170.37 136.33,171.13C137.02,171.89 137.67,172.74 138.30,173.56C138.93,174.38 139.53,175.21 140.11,176.05C140.69,176.89 141.24,177.75 141.78,178.61C142.31,179.47 142.82,180.34 143.32,181.22C143.81,182.10 144.28,182.99 144.74,183.88C145.20,184.78 145.63,185.68 146.06,186.59C146.48,187.50 146.89,188.41 147.29,189.33C147.69,190.25 148.07,191.18 148.44,192.11C148.82,193.04 149.18,193.97 149.54,194.91C149.89,195.85 150.24,196.79 150.58,197.73C150.92,198.68 151.26,199.62 151.59,200.57C151.92,201.52 152.25,202.47 152.57,203.41C152.90,204.36 153.22,205.31 153.55,206.26C153.87,207.21 154.20,208.16 154.52,209.11C154.85,210.06 155.18,211.00 155.50,211.95C155.83,212.90 156.16,213.84 156.49,214.79C156.81,215.74 157.14,216.68 157.47,217.63C157.80,218.58 158.12,219.52 158.45,220.47C158.78,221.41 159.11,222.36 159.44,223.30C159.76,224.25 160.09,225.19 160.42,226.14C160.75,227.08 161.07,228.03 161.40,228.97C161.73,229.92 162.06,230.86 162.38,231.81C162.71,232.75 163.04,233.70 163.36,234.64C163.69,235.59 164.01,236.53 164.34,237.48C164.66,238.42 164.99,239.37 165.31,240.32C165.64,241.26 165.96,242.21 166.28,243.15C166.61,244.10 166.93,245.05 167.25,245.99C167.57,246.94 167.89,247.89 168.21,248.83C168.53,249.78 168.85,250.73 169.17,251.68C169.49,252.63 169.80,253.58 170.12,254.52C170.43,255.47 170.75,256.42 171.06,257.37C171.38,258.32 171.69,259.27 172.00,260.23C172.31,261.18 172.62,262.13 172.93,263.08C173.24,264.03 173.55,264.99 173.85,265.94C174.16,266.89 174.47,267.85 174.77,268.80C175.07,269.76 175.37,270.71 175.67,271.67C175.98,272.63 176.27,273.58 176.57,274.54C176.87,275.50 177.16,276.46 177.46,277.42C177.75,278.38 178.04,279.34 178.34,280.30C178.63,281.26 178.91,282.22 179.20,283.19C179.49,284.15 179.77,285.11 180.06,286.08C180.34,287.04 180.63,288.01 180.92,288.97C181.21,289.93 181.49,290.89 181.79,291.85C182.08,292.81 182.38,293.77 182.68,294.73C182.98,295.69 183.29,296.64 183.60,297.59C183.91,298.54 184.23,299.49 184.56,300.43C184.89,301.37 185.23,302.31 185.58,303.25C185.93,304.18 186.28,305.11 186.65,306.03C187.03,306.96 187.41,307.87 187.80,308.78C188.20,309.69 188.61,310.60 189.03,311.50C189.46,312.39 189.90,313.28 190.36,314.16C190.81,315.04 191.29,315.92 191.77,316.78C192.26,317.65 192.76,318.51 193.28,319.36C193.80,320.21 194.33,321.05 194.87,321.89C195.42,322.73 195.97,323.56 196.54,324.38C197.11,325.20 197.69,326.02 198.28,326.83C198.87,327.64 199.48,328.45 200.09,329.24C200.70,330.04 201.32,330.83 201.96,331.62C202.59,332.41 203.23,333.19 203.87,333.96C204.52,334.74 205.18,335.51 205.84,336.27C206.50,337.04 207.17,337.80 207.85,338.55C208.52,339.31 209.20,340.06 209.89,340.80C210.57,341.55 211.27,342.29 211.96,343.03C212.65,343.76 213.35,344.50 214.06,345.22C214.76,345.95 215.47,346.67 216.19,347.37C216.91,348.07 217.63,348.76 218.37,349.42C219.11,350.09 219.86,350.74 220.63,351.36C221.40,351.98 222.18,352.58 222.98,353.14C223.78,353.70 224.60,354.24 225.43,354.73C226.27,355.23 227.13,355.69 228.01,356.11C228.90,356.53 229.80,356.90 230.72,357.25C231.64,357.60 232.58,357.91 233.54,358.20C234.49,358.49 235.46,358.75 236.44,358.99C237.42,359.23 238.41,359.44 239.41,359.64C240.41,359.85 241.42,360.03 242.43,360.20C243.44,360.38 244.46,360.54 245.47,360.70C246.49,360.86 247.51,361.01 248.53,361.17C249.54,361.32 250.56,361.47 251.57,361.64C252.58,361.80 253.58,361.97 254.58,362.14C255.58,362.31 256.57,362.49 257.56,362.66C258.55,362.83 259.54,363.01 260.52,363.17C261.50,363.34 262.48,363.50 263.46,363.65C264.44,363.80 265.41,363.95 266.39,364.07C267.36,364.19 268.34,364.31 269.31,364.40C270.29,364.49 271.26,364.56 272.24,364.61C273.21,364.65 274.19,364.68 275.17,364.67C276.15,364.66 277.13,364.63 278.12,364.56C279.10,364.49 280.10,364.39 281.09,364.26C282.08,364.14 283.07,363.98 284.06,363.79C285.05,363.61 286.04,363.40 287.03,363.18C288.01,362.95 289.00,362.70 289.98,362.43C290.95,362.17 291.93,361.89 292.90,361.59C293.86,361.30 294.83,360.99 295.78,360.67C296.74,360.35 297.70,360.01 298.65,359.67C299.60,359.33 300.54,358.97 301.49,358.61C302.43,358.25 303.37,357.88 304.31,357.51C305.25,357.14 306.18,356.76 307.12,356.38C308.05,356.00 308.98,355.61 309.91,355.23C310.84,354.84 311.77,354.45 312.70,354.07C313.63,353.69 314.56,353.30 315.49,352.92C316.42,352.54 317.35,352.16 318.28,351.79C319.21,351.42 320.14,351.06 321.07,350.70C322.00,350.34 322.93,349.99 323.87,349.65C324.81,349.31 325.74,348.98 326.69,348.66C327.63,348.35 328.57,348.04 329.52,347.75C330.46,347.46 331.41,347.18 332.37,346.92C333.32,346.66 334.28,346.42 335.25,346.20C336.21,345.97 337.18,345.76 338.15,345.58C339.13,345.40 340.11,345.23 341.09,345.09C342.08,344.95 343.07,344.83 344.06,344.74C345.06,344.64 346.06,344.57 347.06,344.52C348.06,344.46 349.07,344.43 350.08,344.43C351.08,344.42 352.09,344.43 353.10,344.46C354.11,344.49 355.12,344.55 356.13,344.62C357.14,344.70 358.15,344.79 359.16,344.90C360.16,345.02 361.17,345.15 362.17,345.31C363.17,345.46 364.16,345.63 365.16,345.83C366.15,346.02 367.14,346.23 368.12,346.46C369.10,346.69 370.08,346.94 371.04,347.20C372.01,347.47 372.97,347.76 373.92,348.06C374.88,348.36 375.82,348.68 376.76,349.00C377.70,349.32 378.64,349.66 379.57,349.99C380.51,350.32 381.44,350.66 382.37,350.98C383.31,351.30 384.24,351.62 385.18,351.92C386.12,352.22 387.06,352.51 388.01,352.77C388.96,353.03 389.91,353.28 390.88,353.48C391.85,353.69 392.82,353.87 393.81,354.01C394.80,354.15 395.80,354.25 396.80,354.33C397.81,354.40 398.82,354.44 399.84,354.47C400.86,354.49 401.88,354.48 402.90,354.45C403.93,354.43 404.96,354.38 405.98,354.32C407.01,354.25 408.03,354.17 409.05,354.09C410.07,354.00 411.09,353.91 412.09,353.78C413.10,353.66 414.10,353.53 415.07,353.33C416.04,353.13 417.00,352.91 417.92,352.60C418.84,352.29 419.73,351.91 420.59,351.45C421.44,350.99 422.26,350.43 423.05,349.84C423.83,349.25 424.58,348.59 425.30,347.91C426.02,347.24 426.71,346.53 427.37,345.79C428.03,345.05 428.65,344.29 429.26,343.50C429.86,342.71 430.44,341.89 430.99,341.06C431.54,340.23 432.07,339.37 432.58,338.50C433.08,337.63 433.57,336.74 434.03,335.84C434.50,334.94 434.94,334.02 435.37,333.10C435.80,332.18 436.21,331.24 436.60,330.30C437.00,329.36 437.38,328.41 437.75,327.46C438.12,326.51 438.47,325.55 438.81,324.60C439.16,323.65 439.49,322.70 439.82,321.74C440.15,320.79 440.46,319.84 440.77,318.89C441.08,317.94 441.38,316.99 441.68,316.04C441.97,315.09 442.26,314.14 442.54,313.19C442.82,312.24 443.10,311.29 443.37,310.34C443.64,309.39 443.90,308.44 444.17,307.49C444.43,306.54 444.69,305.58 444.95,304.63C445.20,303.67 445.46,302.72 445.71,301.76C445.96,300.80 446.21,299.84 446.46,298.88C446.71,297.92 446.96,296.96 447.21,295.99C447.46,295.03 447.71,294.06 447.97,293.09C448.22,292.12 448.47,291.15 448.72,290.17C448.96,289.20 449.21,288.23 449.46,287.25C449.71,286.28 449.96,285.30 450.21,284.32C450.45,283.34 450.70,282.36 450.95,281.38C451.19,280.40 451.44,279.42 451.68,278.44C451.92,277.46 452.17,276.48 452.41,275.50C452.65,274.51 452.89,273.53 453.12,272.55C453.36,271.57 453.60,270.58 453.83,269.60C454.07,268.62 454.30,267.64 454.53,266.65C454.76,265.67 454.99,264.69 455.21,263.71C455.44,262.73 455.66,261.75 455.89,260.77C456.11,259.79 456.33,258.81 456.54,257.84C456.76,256.86 456.97,255.88 457.19,254.91C457.40,253.93 457.60,252.96 457.81,251.99C458.02,251.02 458.22,250.05 458.42,249.08C458.62,248.12 458.81,247.15 459.00,246.19C459.20,245.22 459.39,244.26 459.58,243.30C459.78,242.34 459.97,241.37 460.16,240.41C460.36,239.45 460.55,238.49 460.75,237.52C460.95,236.56 461.15,235.60 461.37,234.63C461.58,233.66 461.79,232.69 462.01,231.72C462.24,230.75 462.47,229.78 462.71,228.80C462.95,227.82 463.20,226.84 463.46,225.85C463.73,224.86 464.00,223.87 464.29,222.87C464.57,221.88 464.87,220.87 465.19,219.87C465.51,218.86 465.83,217.83 466.19,216.82C466.55,215.82 466.91,214.80 467.33,213.84C467.75,212.88 468.20,211.93 468.71,211.07C469.22,210.21 469.77,209.39 470.41,208.68C471.04,207.97 471.73,207.33 472.51,206.82C473.28,206.32 474.16,205.91 475.04,205.66C475.92,205.41 476.88,205.28 477.78,205.32C478.69,205.36 479.61,205.56 480.46,205.90C481.31,206.24 482.13,206.78 482.89,207.38C483.66,207.98 484.39,208.73 485.08,209.49C485.76,210.26 486.41,211.13 487.01,211.97C487.62,212.82 488.18,213.69 488.73,214.56C489.27,215.42 489.78,216.28 490.30,217.15C490.82,218.02 491.33,218.89 491.87,219.76C492.40,220.63 492.94,221.51 493.51,222.37C494.07,223.23 494.64,224.09 495.24,224.92C495.84,225.75 496.46,226.57 497.10,227.35C497.74,228.14 498.40,228.90 499.10,229.61C499.79,230.33 500.51,231.01 501.26,231.64C502.01,232.27 502.78,232.86 503.60,233.38C504.41,233.90 505.26,234.37 506.14,234.76C507.03,235.16 507.96,235.48 508.91,235.75C509.86,236.02 510.86,236.21 511.86,236.40C512.86,236.58 513.89,236.71 514.91,236.86C515.93,237.01 516.96,237.13 517.97,237.30C518.98,237.47 519.98,237.63 520.95,237.86C521.92,238.10 522.86,238.37 523.77,238.71C524.68,239.05 525.55,239.46 526.39,239.91C527.23,240.37 528.04,240.88 528.83,241.43C529.61,241.98 530.37,242.58 531.10,243.22C531.84,243.85 532.55,244.53 533.24,245.24C533.93,245.94 534.60,246.69 535.25,247.45C535.90,248.21 536.54,249.01 537.16,249.81C537.78,250.62 538.39,251.45 538.99,252.28C539.59,253.12 540.18,253.97 540.76,254.82C541.34,255.67 541.92,256.53 542.49,257.38C543.06,258.23 543.63,259.08 544.20,259.93C544.76,260.78 545.33,261.62 545.90,262.46C546.47,263.29 547.03,264.13 547.60,264.95C548.18,265.78 548.75,266.60 549.33,267.42C549.91,268.23 550.49,269.04 551.08,269.84C551.67,270.64 552.26,271.44 552.87,272.22C553.48,273.01 554.09,273.78 554.72,274.55C555.34,275.32 555.98,276.08 556.63,276.82C557.28,277.57 557.94,278.31 558.61,279.04C559.29,279.76 559.98,280.48 560.68,281.19C561.38,281.90 562.09,282.59 562.81,283.28C563.53,283.97 564.27,284.65 565.01,285.32C565.75,285.99 566.50,286.64 567.26,287.30C568.02,287.95 568.79,288.59 569.57,289.22C570.35,289.85 571.13,290.48 571.92,291.09C572.71,291.71 573.51,292.32 574.31,292.92C575.12,293.52 575.93,294.11 576.74,294.69C577.55,295.28 578.37,295.85 579.19,296.42C580.00,297.00 580.83,297.56 581.65,298.13C582.47,298.69 583.29,299.26 584.10,299.83C584.92,300.40 585.74,300.97 586.54,301.55C587.35,302.13 588.16,302.72 588.95,303.32C589.74,303.92 590.53,304.52 591.31,305.15C592.09,305.78 592.85,306.42 593.61,307.08C594.36,307.74 595.11,308.41 595.85,309.09C596.59,309.77 597.32,310.47 598.05,311.15C598.79,311.84 599.52,312.54 600.25,313.23C600.99,313.91 601.72,314.60 602.47,315.27C603.22,315.94 603.97,316.61 604.74,317.25C605.50,317.89 606.28,318.52 607.07,319.12C607.87,319.72 608.67,320.30 609.51,320.84C610.34,321.39 611.19,321.90 612.06,322.39C612.93,322.89 613.82,323.34 614.71,323.79C615.61,324.24 616.52,324.67 617.43,325.09C618.34,325.52 619.27,325.93 620.19,326.35C621.10,326.76 622.03,327.17 622.94,327.60C623.85,328.03 624.76,328.46 625.66,328.90C626.55,329.35 627.44,329.82 628.32,330.29C629.20,330.76 630.07,331.25 630.94,331.74C631.81,332.24 632.67,332.74 633.53,333.25C634.38,333.76 635.24,334.28 636.09,334.80C636.94,335.32 637.79,335.84 638.64,336.37C639.50,336.89 640.35,337.42 641.20,337.94C642.05,338.47 642.91,338.99 643.76,339.51C644.62,340.03 645.48,340.55 646.34,341.06C647.21,341.57 648.07,342.08 648.94,342.57C649.81,343.07 650.69,343.56 651.57,344.04C652.44,344.52 653.33,344.99 654.22,345.45C655.11,345.91 656.46,346.56 656.91,346.79" stroke="#0070c0" stroke-width="3.20"/>
<path d="M73.31,211.66C73.55,211.22 74.27,209.90 74.74,209.02C75.22,208.13 75.68,207.25 76.14,206.36C76.60,205.47 77.06,204.57 77.51,203.68C77.97,202.78 78.42,201.88 78.86,200.99C79.31,200.09 79.76,199.19 80.20,198.29C80.64,197.39 81.08,196.48 81.52,195.58C81.97,194.68 82.40,193.78 82.85,192.88C83.29,191.98 83.73,191.08 84.17,190.18C84.61,189.28 85.06,188.38 85.50,187.48C85.95,186.59 86.40,185.69 86.85,184.80C87.30,183.91 87.76,183.02 88.22,182.13C88.68,181.24 89.15,180.36 89.62,179.48C90.09,178.60 90.56,177.72 91.05,176.85C91.53,175.98 92.02,175.11 92.52,174.24C93.01,173.38 93.52,172.52 94.03,171.67C94.55,170.81 95.07,169.97 95.60,169.12C96.13,168.28 96.67,167.45 97.22,166.62C97.78,165.79 98.34,164.97 98.91,164.15C99.49,163.34 100.07,162.53 100.67,161.73C101.27,160.93 101.88,160.14 102.50,159.36C103.13,158.57 103.77,157.80 104.42,157.03C105.06,156.26 105.73,155.50 106.40,154.75C107.07,154.00 107.75,153.25 108.43,152.51C109.12,151.77 109.82,151.04 110.52,150.31C111.22,149.58 111.94,148.86 112.65,148.14C113.36,147.42 114.08,146.71 114.81,146.00C115.53,145.29 116.26,144.59 116.98,143.89C117.71,143.18 118.44,142.49 119.17,141.79C119.90,141.10 120.63,140.40 121.36,139.71C122.09,139.02 122.81,138.33 123.54,137.65C124.26,136.96 124.98,136.28 125.71,135.60C126.44,134.92 127.16,134.25 127.90,133.58C128.63,132.92 129.37,132.26 130.12,131.61C130.87,130.96 131.62,130.33 132.39,129.70C133.16,129.08 133.94,128.46 134.74,127.87C135.53,127.27 136.35,126.69 137.17,126.11C137.99,125.54 138.82,124.98 139.65,124.42C140.49,123.86 141.33,123.31 142.16,122.75C143.00,122.20 143.84,121.65 144.68,121.10C145.51,120.55 146.35,120.00 147.19,119.45C148.03,118.90 148.87,118.35 149.70,117.80C150.54,117.25 151.38,116.70 152.21,116.15C153.05,115.60 153.88,115.05 154.72,114.49C155.55,113.94 156.38,113.39 157.22,112.83C158.05,112.28 158.88,111.72 159.71,111.16C160.53,110.60 161.36,110.04 162.19,109.48C163.01,108.91 163.83,108.35 164.65,107.77C165.48,107.20 166.29,106.63 167.11,106.05C167.93,105.47 168.74,104.89 169.55,104.31C170.36,103.72 171.17,103.13 171.97,102.53C172.78,101.94 173.58,101.34 174.38,100.73C175.17,100.12 175.97,99.51 176.76,98.89C177.55,98.28 178.34,97.65 179.12,97.02C179.91,96.39 180.68,95.76 181.46,95.11C182.23,94.47 183.01,93.82 183.77,93.16C184.54,92.50 185.30,91.83 186.06,91.16C186.81,90.48 187.57,89.80 188.32,89.12C189.07,88.44 189.82,87.76 190.58,87.08C191.33,86.41 192.08,85.73 192.84,85.06C193.60,84.40 194.36,83.74 195.14,83.09C195.91,82.45 196.68,81.82 197.47,81.20C198.26,80.59 199.05,79.99 199.86,79.42C200.67,78.85 201.48,78.30 202.32,77.77C203.16,77.25 204.00,76.75 204.87,76.29C205.74,75.83 206.62,75.40 207.52,74.99C208.41,74.58 209.33,74.21 210.25,73.84C211.17,73.48 212.11,73.15 213.05,72.82C214.00,72.50 214.95,72.19 215.91,71.89C216.87,71.59 217.83,71.30 218.80,71.01C219.77,70.72 220.74,70.43 221.71,70.14C222.68,69.85 223.66,69.56 224.63,69.26C225.60,68.96 226.57,68.65 227.53,68.35C228.50,68.04 229.47,67.72 230.43,67.41C231.40,67.10 232.37,66.78 233.33,66.47C234.30,66.16 235.26,65.85 236.23,65.55C237.19,65.24 238.16,64.94 239.12,64.65C240.09,64.35 241.05,64.06 242.02,63.79C242.98,63.51 243.95,63.24 244.92,62.98C245.88,62.73 246.85,62.48 247.82,62.25C248.79,62.02 249.76,61.80 250.73,61.61C251.70,61.41 252.68,61.23 253.65,61.06C254.63,60.90 255.61,60.76 256.58,60.64C257.56,60.52 258.54,60.42 259.53,60.35C260.51,60.27 261.50,60.22 262.49,60.20C263.48,60.18 264.47,60.19 265.46,60.22C266.46,60.24 267.45,60.30 268.45,60.37C269.45,60.43 270.45,60.52 271.45,60.62C272.46,60.72 273.46,60.83 274.46,60.94C275.47,61.05 276.47,61.17 277.48,61.29C278.49,61.41 279.49,61.53 280.50,61.63C281.51,61.74 282.51,61.84 283.52,61.94C284.53,62.03 285.53,62.12 286.54,62.20C287.54,62.29 288.55,62.37 289.55,62.46C290.55,62.55 291.55,62.64 292.55,62.74C293.55,62.85 294.54,62.96 295.53,63.08C296.52,63.21 297.51,63.35 298.50,63.52C299.48,63.68 300.46,63.86 301.44,64.07C302.42,64.28 303.39,64.51 304.35,64.77C305.32,65.03 306.28,65.31 307.23,65.62C308.18,65.92 309.12,66.26 310.06,66.61C310.99,66.97 311.91,67.35 312.83,67.75C313.74,68.16 314.64,68.58 315.53,69.04C316.42,69.49 317.30,69.97 318.16,70.47C319.02,70.97 319.87,71.49 320.70,72.04C321.54,72.58 322.36,73.15 323.18,73.73C324.00,74.30 324.80,74.90 325.60,75.51C326.40,76.11 327.20,76.73 327.99,77.35C328.78,77.97 329.56,78.61 330.35,79.24C331.14,79.87 331.92,80.50 332.71,81.13C333.50,81.76 334.28,82.39 335.08,83.02C335.87,83.64 336.67,84.25 337.48,84.86C338.28,85.46 339.09,86.06 339.91,86.64C340.72,87.23 341.54,87.81 342.37,88.38C343.20,88.95 344.03,89.52 344.86,90.08C345.69,90.64 346.53,91.19 347.37,91.74C348.21,92.29 349.05,92.83 349.90,93.38C350.74,93.92 351.59,94.46 352.43,95.00C353.28,95.53 354.13,96.07 354.97,96.60C355.82,97.14 356.67,97.68 357.51,98.21C358.36,98.75 359.20,99.29 360.05,99.83C360.89,100.37 361.73,100.91 362.57,101.45C363.41,102.00 364.25,102.55 365.08,103.10C365.91,103.66 366.74,104.22 367.56,104.78C368.39,105.35 369.21,105.92 370.02,106.50C370.83,107.08 371.64,107.67 372.44,108.26C373.25,108.86 374.04,109.46 374.83,110.08C375.62,110.69 376.41,111.31 377.19,111.94C377.96,112.57 378.74,113.21 379.51,113.85C380.28,114.49 381.04,115.14 381.80,115.79C382.56,116.45 383.32,117.10 384.07,117.77C384.82,118.43 385.57,119.10 386.32,119.77C387.07,120.44 387.81,121.12 388.56,121.79C389.30,122.47 390.04,123.15 390.78,123.83C391.52,124.51 392.25,125.19 392.99,125.87C393.73,126.56 394.46,127.24 395.20,127.92C395.94,128.60 396.67,129.29 397.41,129.97C398.14,130.65 398.88,131.33 399.62,132.01C400.36,132.68 401.09,133.36 401.83,134.03C402.58,134.70 403.32,135.37 404.06,136.04C404.81,136.70 405.56,137.37 406.31,138.03C407.06,138.68 407.81,139.34 408.57,139.99C409.33,140.64 410.09,141.28 410.86,141.92C411.63,142.56 412.40,143.20 413.18,143.82C413.95,144.45 414.74,145.07 415.52,145.69C416.31,146.30 417.11,146.91 417.91,147.51C418.71,148.11 419.52,148.71 420.33,149.30C421.13,149.90 421.94,150.48 422.75,151.08C423.56,151.67 424.37,152.26 425.17,152.86C425.97,153.46 426.77,154.06 427.57,154.67C428.36,155.28 429.14,155.89 429.92,156.52C430.69,157.15 431.45,157.79 432.20,158.44C432.95,159.09 433.69,159.76 434.41,160.44C435.13,161.12 435.83,161.82 436.52,162.54C437.21,163.26 437.88,163.99 438.54,164.74C439.20,165.49 439.84,166.25 440.48,167.03C441.11,167.80 441.73,168.58 442.35,169.38C442.96,170.17 443.57,170.97 444.17,171.78C444.78,172.59 445.37,173.40 445.97,174.22C446.56,175.03 447.15,175.85 447.74,176.67C448.33,177.49 448.92,178.31 449.52,179.13C450.11,179.95 450.70,180.77 451.31,181.58C451.91,182.39 452.51,183.19 453.13,183.99C453.74,184.79 454.36,185.59 454.98,186.37C455.61,187.16 456.24,187.94 456.87,188.72C457.51,189.50 458.15,190.27 458.80,191.03C459.45,191.80 460.10,192.56 460.75,193.32C461.41,194.08 462.07,194.83 462.74,195.58C463.40,196.32 464.07,197.07 464.75,197.81C465.42,198.55 466.10,199.28 466.78,200.02C467.46,200.75 468.15,201.48 468.84,202.21C469.53,202.93 470.22,203.66 470.91,204.38C471.61,205.10 472.30,205.81 473.01,206.53C473.71,207.25 474.41,207.96 475.11,208.67C475.82,209.38 476.53,210.09 477.23,210.80C477.94,211.51 478.65,212.21 479.37,212.92C480.08,213.63 480.79,214.33 481.51,215.03C482.22,215.74 482.94,216.44 483.65,217.14C484.37,217.84 485.09,218.54 485.81,219.24C486.52,219.94 487.24,220.64 487.97,221.34C488.69,222.04 489.41,222.73 490.13,223.43C490.86,224.12 491.58,224.82 492.31,225.51C493.03,226.20 493.76,226.90 494.49,227.59C495.21,228.28 495.94,228.96 496.67,229.65C497.40,230.34 498.13,231.02 498.87,231.71C499.60,232.39 500.33,233.07 501.07,233.75C501.80,234.43 502.54,235.11 503.28,235.79C504.01,236.47 504.75,237.14 505.49,237.82C506.22,238.50 506.96,239.17 507.70,239.85C508.44,240.52 509.18,241.20 509.91,241.87C510.65,242.55 511.39,243.22 512.13,243.90C512.86,244.58 513.60,245.25 514.33,245.93C515.07,246.61 515.80,247.29 516.53,247.97C517.27,248.65 518.00,249.33 518.73,250.02C519.46,250.70 520.18,251.39 520.91,252.07C521.64,252.76 522.36,253.45 523.08,254.15C523.80,254.84 524.52,255.54 525.24,256.24C525.95,256.94 526.67,257.64 527.38,258.35C528.09,259.05 528.80,259.76 529.50,260.48C530.20,261.19 530.90,261.91 531.60,262.63C532.30,263.36 533.00,264.08 533.69,264.81C534.38,265.54 535.07,266.27 535.76,267.00C536.45,267.73 537.14,268.47 537.83,269.20C538.52,269.93 539.21,270.66 539.90,271.39C540.59,272.12 541.28,272.85 541.98,273.58C542.67,274.31 543.37,275.03 544.07,275.75C544.77,276.47 545.47,277.19 546.17,277.90C546.88,278.62 547.59,279.32 548.30,280.03C549.02,280.73 549.74,281.42 550.46,282.11C551.19,282.80 551.92,283.48 552.66,284.15C553.39,284.82 554.14,285.49 554.89,286.14C555.64,286.80 556.40,287.44 557.17,288.08C557.94,288.71 558.72,289.33 559.51,289.94C560.30,290.56 561.09,291.16 561.90,291.74C562.71,292.33 563.53,292.90 564.36,293.46C565.19,294.02 566.03,294.56 566.88,295.09C567.73,295.63 568.59,296.14 569.46,296.66C570.32,297.18 571.19,297.69 572.06,298.20C572.93,298.72 573.80,299.22 574.67,299.74C575.53,300.26 576.39,300.78 577.25,301.31C578.10,301.85 578.95,302.39 579.78,302.95C580.61,303.51 581.43,304.08 582.24,304.67C583.06,305.26 583.85,305.86 584.65,306.47C585.44,307.08 586.22,307.71 587.00,308.34C587.78,308.97 588.54,309.62 589.31,310.26C590.08,310.91 590.84,311.56 591.60,312.21C592.36,312.87 593.12,313.53 593.88,314.18C594.64,314.84 595.39,315.50 596.16,316.16C596.92,316.81 597.68,317.46 598.45,318.11C599.22,318.75 599.99,319.39 600.77,320.01C601.55,320.64 602.34,321.25 603.14,321.85C603.94,322.44 604.74,323.03 605.56,323.59C606.39,324.14 607.22,324.69 608.07,325.20C608.91,325.71 609.78,326.20 610.66,326.67C611.54,327.13 612.43,327.56 613.34,327.98C614.24,328.40 615.17,328.80 616.09,329.19C617.01,329.58 617.95,329.95 618.88,330.33C619.81,330.71 620.75,331.08 621.68,331.46C622.61,331.84 623.55,332.22 624.47,332.62C625.40,333.01 626.31,333.42 627.22,333.84C628.14,334.26 629.04,334.70 629.94,335.14C630.84,335.58 631.73,336.04 632.63,336.49C633.52,336.95 634.40,337.41 635.29,337.88C636.18,338.35 637.06,338.82 637.94,339.29C638.83,339.76 639.71,340.24 640.59,340.71C641.48,341.18 642.36,341.65 643.25,342.12C644.13,342.58 645.02,343.04 645.91,343.50C646.81,343.95 647.70,344.40 648.60,344.84C649.50,345.28 650.41,345.71 651.32,346.12C652.23,346.54 653.15,346.94 654.08,347.33C655.00,347.72 656.41,348.27 656.88,348.46" stroke="#000000" stroke-width="3.60"/>
</g>
<g class="t" font-size="15.6" font-weight="bold" text-anchor="middle">
<text transform="translate(130.15,196.75) rotate(0.03) scale(0.88,1)">B</text>
<text transform="translate(201.3,113.95) rotate(0.03) scale(0.926,1)">G</text>
<text transform="translate(294.2,83.95) rotate(0.03) scale(0.852,1)">R</text>
<text transform="translate(374.65,100.05) rotate(0.03) scale(1.01,1)">M</text>
</g>
<g fill="none" stroke-linecap="round">
<line x1="205" y1="27" x2="231.6" y2="27" stroke="#c00000" stroke-width="2.6"/>
<line x1="274.8" y1="27" x2="301.4" y2="27" stroke="#00b050" stroke-width="2.6"/>
<line x1="358.3" y1="27" x2="384.9" y2="27" stroke="#0070c0" stroke-width="2.6"/>
<line x1="430.8" y1="27" x2="460" y2="27" stroke="#000000" stroke-width="2.2"/>
</g>
<g class="t" font-size="13.55">
<text x="235.5" y="32.8">Red</text>
<text x="305.5" y="32.8">Green</text>
<text x="389.2" y="32.8">Blue</text>
<text x="463.6" y="32.8">Mono</text>
</g>
<g fill="#0000ff" stroke="#0000ff" stroke-linejoin="round">
<text x="5.8" y="393.5" font-size="20.9" font-weight="bold" style="font-family:'Liberation Sans','Noto Sans CJK SC',sans-serif;fill:#0000ff;stroke:#0000ff;stroke-width:0.3px">石鑫华视觉论坛</text>
</g>
<g class="t"><text transform="translate(4.8,422.4) rotate(0.02) scale(1.04,1.0)" font-size="20.9" font-weight="bold" style="fill:#0000ff;stroke:#0000ff;stroke-width:0.3px">visionbbs.com</text></g>
</svg>
</body></html>
